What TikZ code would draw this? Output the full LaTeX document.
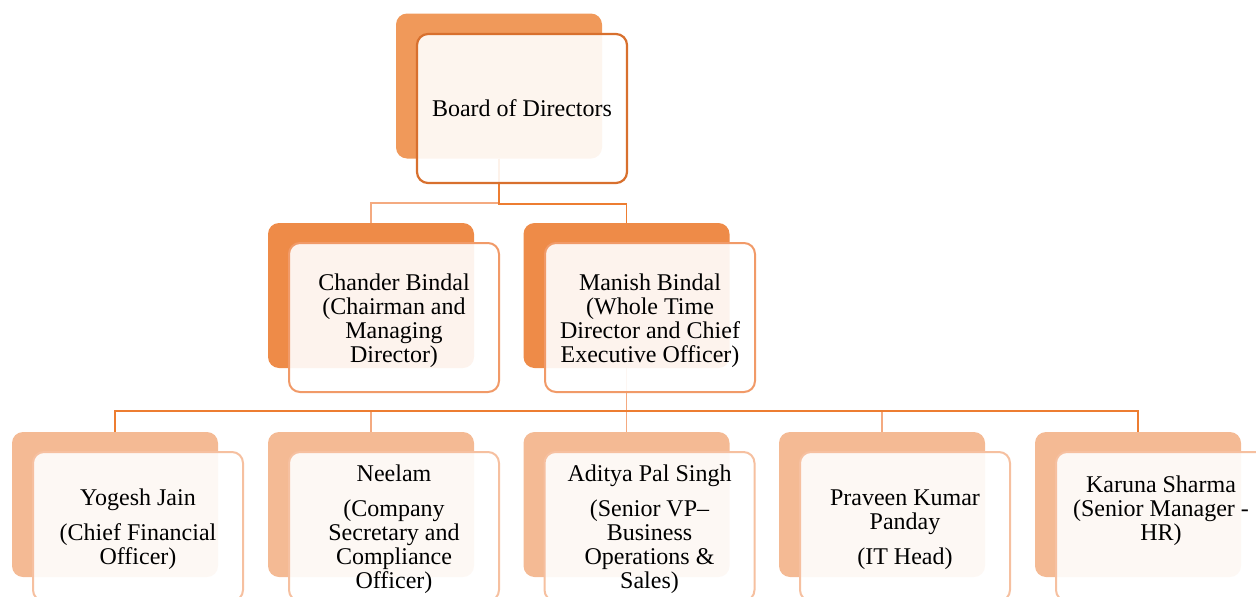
\documentclass[tikz,border=0pt]{standalone}
\usepackage{fontspec}
\setmainfont{Liberation Serif}
\definecolor{topfill}{HTML}{F0995A}
\definecolor{topline}{HTML}{D8702E}
\definecolor{midfill}{HTML}{EE8B48}
\definecolor{midline}{HTML}{F19A68}
\definecolor{lowfill}{HTML}{F4BA94}
\definecolor{lowline}{HTML}{F6C0A0}
\definecolor{connA}{HTML}{ED7D31}
\definecolor{connB}{HTML}{F4AA80}
\newcommand{\tstrut}{\rule{0pt}{22.5pt}}
\begin{document}
\begin{tikzpicture}
  [x=1pt,y=-1pt,
   every node/.style={rounded corners=11pt,inner sep=0pt,align=center,
     font=\fontsize{24}{24}\selectfont},
   backbox/.style={fill=#1,minimum width=206pt,minimum height=145pt},
   frontbox/.style={draw=#1,line width=2pt,fill=white,fill opacity=.9,
     text opacity=1,minimum width=210pt,minimum height=149pt},
   conn/.style={line width=1.6pt,draw=#1}]

  \useasboundingbox (0,0) rectangle (1256,597);

  % Cajas traseras
  \node[backbox=topfill] (bodB) at (499,86) {};
  \node[backbox=midfill] (cbB) at (371,295.5) {};
  \node[backbox=midfill] (mbB) at (626.5,295.5) {};
  \node[backbox=lowfill] (yjB) at (115,504.5) {};
  \node[backbox=lowfill] (neB) at (371,504.5) {};
  \node[backbox=lowfill] (apB) at (626.5,504.5) {};
  \node[backbox=lowfill] (pkB) at (882,504.5) {};
  \node[backbox=lowfill] (ksB) at (1138,504.5) {};

  % Conectores
  \draw[conn=connB] (bodB.south) -- ++(0,44) -| (cbB.north);
  \draw[conn=connA] (bodB.south) -- ++(0,45) -| (mbB.north);
  \coordinate (bar) at ([yshift=-43pt]mbB.south);
  \draw[conn=connB] (mbB.south) -- (bar) -- (apB.north);
  \foreach \to in {neB, pkB}
    \draw[conn=connB] (bar) -| (\to.north);
  \draw[conn=connA, line width=2pt] (yjB.north) |- (bar) -| (ksB.north);

  % Cajas delanteras con texto
  \node[frontbox=topline, line width=2.2pt] (bod) at (522,108.5) {Board of Directors};
  \node[frontbox=midline] (cb) at (394,317.5)
    {\tstrut Chander Bindal\\(Chairman and\\Managing\\Director)};
  \node[frontbox=midline] (mb) at (650,317.5)
    {\tstrut Manish Bindal\\(Whole Time\\Director and Chief\\Executive Officer)};
  \node[frontbox=lowline] (yj) at (138,526.5)
    {\tstrut Yogesh Jain\\[11pt](Chief Financial\\Officer)};
  \node[frontbox=lowline] (ne) at (394,526.5)
    {\tstrut Neelam\\[11pt](Company\\Secretary and\\Compliance\\Officer)};
  \node[frontbox=lowline] (ap) at (649.5,526.5)
    {\tstrut Aditya Pal Singh\\[11pt](Senior VP–\\Business\\Operations \&\\Sales)};
  \node[frontbox=lowline] (pk) at (905,526.5)
    {\tstrut Praveen Kumar\\Panday\\[11pt](IT Head)};
  \node[frontbox=lowline] (ks) at (1161,526.5)
    {Karuna Sharma\\(Senior Manager -\\HR)\\[12pt]\mbox{}};

\end{tikzpicture}
\end{document}
